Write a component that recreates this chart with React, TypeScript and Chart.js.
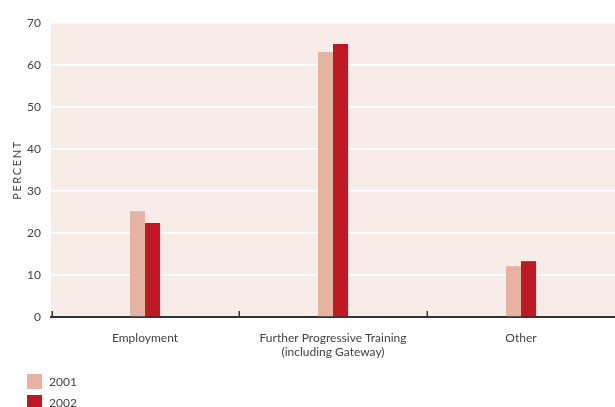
import React, { useEffect, useRef } from "react";
import { Chart, registerables } from "chart.js";

Chart.register(...registerables);

const categories: (string | string[])[] = [
  "Employment",
  ["Further Progressive Training", "(including Gateway)"],
  "Other",
];
const seriesLabels = ["2001", "2002"];
const values2001 = [25.2, 63.1, 12.1];
const values2002 = [22.4, 65.0, 13.3];
const yTicks = [0, 10, 20, 30, 40, 50, 60, 70];

const colors = ["#e6b2a1", "#bd1823"];
const FONT = "Lato, 'Open Sans', sans-serif";

// pink plot background, boundary ticks, y title and stacked legend
const decorations = {
  id: "decorations",
  beforeDraw(chart: any) {
    const { ctx, chartArea } = chart;
    ctx.save();
    ctx.fillStyle = "#f8ece8";
    ctx.fillRect(chartArea.left, chartArea.top, chartArea.right - chartArea.left, chartArea.bottom - chartArea.top);
    ctx.restore();
  },
  afterDraw(chart: any) {
    const { ctx, chartArea, scales } = chart;
    const x = scales.x;
    ctx.save();
    // short marks at category boundaries
    ctx.strokeStyle = "#333";
    ctx.lineWidth = 1.5;
    const n = chart.data.labels.length;
    for (let i = 0; i < n; i++) {
      const left = i === 0 ? chartArea.left + 1 : (x.getPixelForValue(i - 1) + x.getPixelForValue(i)) / 2;
      ctx.beginPath();
      ctx.moveTo(Math.round(left) + 0.25, chartArea.bottom);
      ctx.lineTo(Math.round(left) + 0.25, chartArea.bottom - 6);
      ctx.stroke();
    }
    // axis title
    ctx.fillStyle = "#444";
    ctx.font = `11px ${FONT}`;
    (ctx as any).letterSpacing = "1.6px";
    ctx.translate(17, (chartArea.top + chartArea.bottom) / 2);
    ctx.rotate(-Math.PI / 2);
    ctx.textAlign = "center";
    ctx.textBaseline = "middle";
    ctx.fillText("PERCENT", 0, 0);
    ctx.restore();

    // legend, one entry per row
    ctx.save();
    ctx.font = `12px ${FONT}`;
    ctx.textBaseline = "middle";
    chart.data.datasets.forEach((ds: any, i: number) => {
      const top = 374 + i * 21;
      ctx.fillStyle = ds.backgroundColor;
      ctx.fillRect(27, top, 15, 15);
      ctx.fillStyle = "#444";
      ctx.fillText(ds.label, 49, top + 8);
    });
    ctx.restore();
  },
};

export default function App() {
  const ref = useRef<HTMLCanvasElement>(null);
  useEffect(() => {
    if (!ref.current) return;
    const chart = new Chart(ref.current, {
      type: "bar",
      data: {
        labels: categories,
        datasets: [
          { label: seriesLabels[0], data: values2001, backgroundColor: colors[0] },
          { label: seriesLabels[1], data: values2002, backgroundColor: colors[1] },
        ],
      },
      options: {
        animation: false,
        responsive: false,
        layout: { padding: { top: 23, right: 0, left: 0, bottom: 0 } },
        datasets: { bar: { categoryPercentage: 0.16, barPercentage: 1 } },
        plugins: { legend: { display: false }, tooltip: { enabled: false } },
        scales: {
          x: {
            grid: { display: false, drawTicks: false },
            border: { display: true, color: "#333", width: 2 },
            ticks: { color: "#444", font: { family: FONT, size: 12 }, padding: 14, maxRotation: 0 },
            afterFit: (s: any) => { s.height = 90; },
          },
          y: {
            min: 0,
            max: 70,
            afterBuildTicks: (s: any) => { s.ticks = yTicks.map((v) => ({ value: v })); },
            grid: { color: "#ffffff", lineWidth: 1.5, drawTicks: false },
            border: { display: false },
            ticks: { color: "#444", font: { family: FONT, size: 12 }, padding: 10 },
            afterFit: (s: any) => { s.width = 51; },
          },
        },
      },
      plugins: [decorations],
    });
    return () => chart.destroy();
  }, []);
  return (
    <div style={{ position: "absolute", left: 0, top: 0, width: 615, height: 407 }}>
      <canvas ref={ref} width={615} height={407} />
    </div>
  );
}
